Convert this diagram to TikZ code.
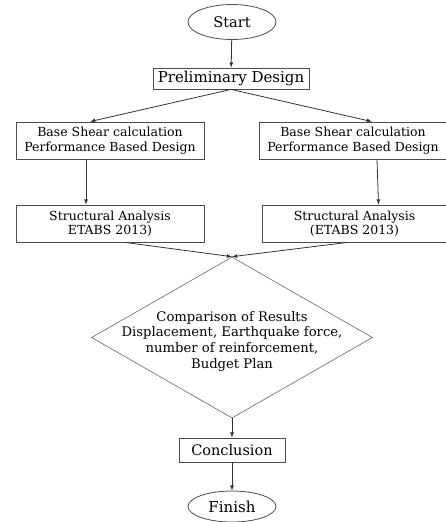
\documentclass[tikz,border=0pt]{standalone}
\usepackage{fontspec}
\setmainfont{DejaVu Serif}
\usetikzlibrary{shapes.geometric}
\begin{document}
\begin{tikzpicture}[x=1pt,y=-1pt,
  line width=0.8pt, draw=black!80, text=black,
  box/.style={rectangle,draw=black!70,inner sep=0pt,align=center},
  term/.style={ellipse,draw=black!70,inner sep=0pt,minimum width=88pt},
  decision/.style={diamond,draw=black!60,line width=0.6pt,inner sep=0pt,minimum width=281pt,minimum height=161pt},
  >={latex}]
\useasboundingbox (0,0) rectangle (446,522);
\node[term,minimum height=35pt,font=\fontsize{14.6}{16}\selectfont] (start) at (232,22) {Start};
\node[box,minimum width=156pt,minimum height=21pt,font=\fontsize{15}{16}\selectfont] (prelim) at (231,78.5) {Preliminary Design};
\node[box,minimum width=188pt,minimum height=37pt,font=\fontsize{12.5}{14.5}\selectfont] (bsl) at (110,140.5) {Base Shear calculation\\Performance Based Design};
\node[box,minimum width=188pt,minimum height=37pt,font=\fontsize{12.5}{14.5}\selectfont] (bsr) at (353,140.5) {Base Shear calculation\\Performance Based Design};
\node[box,minimum width=188pt,minimum height=37pt,font=\fontsize{12.5}{14.5}\selectfont] (sal) at (110,223.5) {Structural Analysis\\ETABS 2013)};
\node[box,minimum width=185pt,minimum height=37pt,font=\fontsize{12.5}{14.5}\selectfont] (sar) at (354.5,223.5) {Structural Analysis\\(ETABS 2013)};
\node[decision] (cmp) at (232,337.5) {};
\node[align=center,inner sep=0pt,font=\fontsize{13.2}{15.7}\selectfont] (cmptxt) at (232,341) {Comparison of Results\\Displacement, Earthquake force,\\number of reinforcement,\\Budget Plan};
\node[box,minimum width=106pt,minimum height=24pt,font=\fontsize{14.5}{16}\selectfont] (concl) at (232,450) {Conclusion};
\node[term,minimum height=31pt,font=\fontsize{15}{16}\selectfont] (finish) at (232,506.5) {Finish};
\draw[->] (start) -- (prelim);
\draw[->] (prelim.south) -- ([xshift=-20pt]bsl.north);
\draw[->] (prelim.south) -- ([xshift=19pt]bsr.north);
\draw[->] ([xshift=-24pt]bsl.south) -- ([xshift=-24pt]sal.north);
\draw[->] ([xshift=24pt]bsr.south) -- ([xshift=24pt]sar.north);
\draw[->] ([xshift=15pt]sal.south) -- (cmp.north);
\draw[->] ([xshift=-7pt]sar.south) -- (cmp.north);
\draw[->] (cmp.south) -- (concl.north);
\draw[->] (concl) -- (finish);
\end{tikzpicture}
\end{document}
